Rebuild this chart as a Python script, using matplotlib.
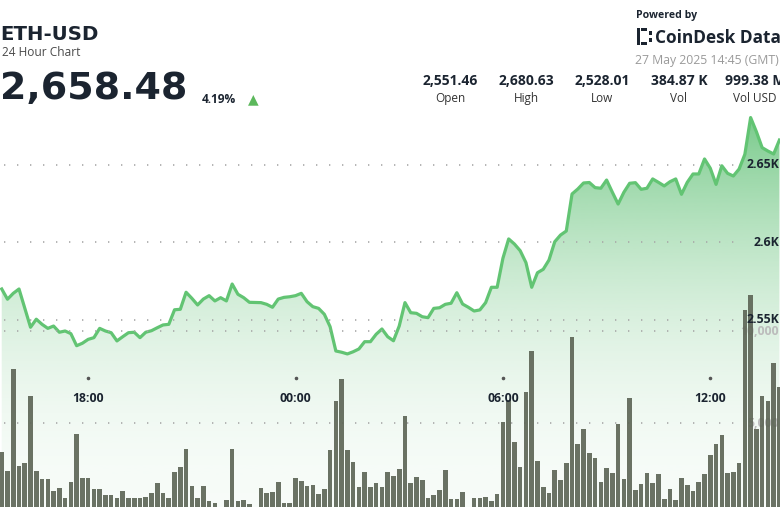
import matplotlib
matplotlib.use('Agg')
import matplotlib.pyplot as plt
import matplotlib.dates as mdates
from matplotlib.colors import to_rgb
from matplotlib.patches import Rectangle
from matplotlib.transforms import blended_transform_factory
import numpy as np
import pandas as pd

matplotlib.rcParams['font.family'] = ['Open Sans', 'DejaVu Sans']

# --- data: 10 minute steps from 15:30 (26 May) ---
prices = [
    2570.0, 2563.4, 2567.2, 2570.0, 2557.7, 2545.3, 2550.5, 2547.2, 2544.6, 2546.1,
    2542.1, 2542.9, 2541.2, 2533.4, 2535.0, 2537.5, 2538.6, 2544.6, 2542.9, 2541.8,
    2536.5, 2539.2, 2541.8, 2542.1, 2538.6, 2542.1, 2543.1, 2545.0, 2546.8, 2547.2,
    2556.6, 2556.9, 2567.9, 2564.0, 2559.7, 2563.5, 2565.7, 2562.3, 2564.4, 2562.3,
    2573.2, 2566.6, 2564.4, 2561.4, 2561.3, 2561.2, 2560.1, 2558.2, 2563.5, 2564.6,
    2565.0, 2565.7, 2567.2, 2561.8, 2558.6, 2557.5, 2553.7, 2545.7, 2530.0, 2529.2,
    2528.1, 2529.5, 2531.3, 2536.0, 2536.0, 2540.8, 2544.2, 2539.2, 2536.6, 2546.1,
    2561.2, 2554.7, 2554.3, 2552.1, 2551.5, 2557.5, 2557.9, 2560.1, 2560.8, 2567.6,
    2560.3, 2558.2, 2555.8, 2556.5, 2561.2, 2571.1, 2571.1, 2589.8, 2602.3, 2599.0,
    2594.7, 2587.0, 2571.1, 2580.5, 2582.7, 2588.7, 2600.5, 2604.8, 2607.4, 2631.3,
    2634.5, 2638.4, 2638.7, 2635.4, 2635.0, 2640.3, 2632.4, 2624.8, 2632.4, 2638.2,
    2638.6, 2634.3, 2635.0, 2641.0, 2638.8, 2636.5, 2639.2, 2641.0, 2631.1, 2638.8,
    2644.2, 2644.2, 2653.9, 2647.9, 2637.5, 2649.5, 2644.6, 2642.9, 2647.4, 2656.9,
    2680.6, 2671.5, 2661.2, 2659.0, 2657.1, 2666.1,
]
volumes = [
    3424, 2391, 7935, 2663, 2826, 6467, 2391, 1957, 1957, 1304,
    1467, 924, 1793, 4402, 2011, 2011, 1413, 1413, 1087, 1087,
    924, 1304, 924, 924, 924, 978, 1196, 1739, 1196, 924,
    2337, 2609, 3587, 1576, 924, 1576, 761, 652, 435, 815,
    3587, 761, 815, 598, 435, 1467, 1196, 1250, 1793, 652,
    652, 2011, 1848, 1576, 1630, 1141, 1413, 3533, 6196, 7392,
    3533, 2880, 1522, 2337, 1522, 1739, 1522, 2337, 2120, 2500,
    5381, 1739, 2065, 1902, 924, 1087, 1359, 2446, 870, 870,
    1250, 200, 924, 924, 978, 761, 1141, 5054, 6250, 3967,
    2609, 6685, 8913, 2935, 1522, 1196, 2446, 1902, 2826, 9674,
    3859, 4674, 3370, 3098, 1793, 2554, 2283, 4946, 1957, 6359,
    1359, 1685, 2283, 1739, 2228, 870, 1413, 815, 2011, 1630,
    1304, 1793, 2228, 3261, 3859, 4348, 2283, 2337, 2826, 11141,
    11957, 4674, 6467, 6196, 8261, 6957,
]
times = pd.date_range('2025-05-26 15:30', periods=len(prices), freq='10min')

price_ticks = [2550, 2600, 2650]
price_tick_labels = ['2.55K', '2.6K', '2.65K']
vol_ticks = [5000, 10000]
vol_tick_labels = ['5,000', '10,000']
time_ticks = pd.to_datetime(['2025-05-26 18:00', '2025-05-27 00:00',
                             '2025-05-27 06:00', '2025-05-27 12:00'])
time_labels = ['18:00', '00:00', '06:00', '12:00']

stat_values = ['2,551.46', '2,680.63', '2,528.01', '384.87 K', '999.38 M']
stat_names = ['Open', 'High', 'Low', 'Vol', 'Vol USD']

W, H = 780, 507
DARK = '#1b2430'
GREEN = '#5cbf72'


def fx(x):
    return x / W


def fy(y):
    return 1 - y / H


fig = plt.figure(figsize=(W / 100, H / 100), dpi=100)
fig.patch.set_facecolor('white')
ax_p = fig.add_axes([0, 0, 1, 1])
ax_v = fig.add_axes([0, 0, 1, 1], sharex=ax_p)
ax_v.patch.set_alpha(0)

x_left = pd.Timestamp('2025-05-26 15:27')
x_right = pd.Timestamp('2025-05-27 14:01')
p_low, p_high = 2429.35, 2756.45
v_low, v_high = 435, 27989

# --- price area with vertical gradient ---
poly = ax_p.fill_between(times, prices, p_low, facecolor='none', edgecolor='none')
clip = poly.get_paths()[0]
n = 256
f = np.linspace(0, 1, n)
rgba = np.zeros((n, 1, 4))
rgba[..., :3] = to_rgb(GREEN)
rgba[..., 3] = (0.05 + 0.8 * f ** 2)[:, None]
x0, x1 = mdates.date2num(x_left), mdates.date2num(x_right)
img = ax_p.imshow(rgba, extent=[x0, x1, p_low, 2685.5], origin='lower',
                  aspect='auto', zorder=1)
img.set_clip_path(clip, transform=ax_p.transData)

ax_p.plot(times, prices, color='#62c473', lw=2.3, zorder=3)

dots = (0, (0.8, 7))
for p in price_ticks:
    ax_p.axhline(p, xmin=0.005, xmax=0.955, color='#a8a8a8', lw=1.2, ls=dots, zorder=2)

ax_p.set_ylim(p_low, p_high)

# volume labels sit under the bars
vtrans = blended_transform_factory(ax_p.transAxes, ax_v.transData)
for v, lab in zip(vol_ticks, vol_tick_labels):
    ax_p.text(779 / W, v, lab, transform=vtrans, ha='right', va='center',
              fontsize=8.8, fontweight='bold', color='#bcbcbc', zorder=2)

# --- volume bars ---
ax_v.bar(times, volumes, width=8 / 1440, color='#5e6657', alpha=0.92,
         linewidth=0, zorder=2)
for v in vol_ticks:
    ax_v.axhline(v, xmin=0.005, xmax=0.955, color='#a8a8a8', lw=1.2, ls=dots, zorder=1)
ax_v.set_ylim(v_low, v_high)

ptrans = blended_transform_factory(ax_v.transAxes, ax_p.transData)
for p, lab in zip(price_ticks, price_tick_labels):
    ax_v.text(779 / W, p, lab, transform=ptrans, ha='right', va='center',
              fontsize=8.8, fontweight='bold', color=DARK, zorder=6)

ttrans = blended_transform_factory(ax_v.transData, ax_v.transAxes)
ax_v.scatter(mdates.date2num(time_ticks), [fy(378)] * len(time_ticks), s=2.5,
             color='#555555', transform=ttrans, zorder=5)
for t, lab in zip(time_ticks, time_labels):
    ax_v.text(mdates.date2num(t), fy(398), lab, transform=ttrans, ha='center',
              va='center', fontsize=8.8, fontweight='bold', color=DARK, zorder=6)

ax_p.set_xlim(x_left, x_right)
ax_p.axis('off')
ax_v.axis('off')

# --- header, left ---
fig.text(fx(0), fy(39.5), 'ETH-USD', fontsize=14.2, fontweight='bold',
         color=DARK, family='DejaVu Sans', va='baseline')
fig.text(fx(1.5), fy(56), '24 Hour Chart', fontsize=8.6, color='#4a4a4a', va='baseline')
fig.text(fx(0), fy(99.5), '2,658.48', fontsize=27.4, fontweight='bold',
         color=DARK, family='DejaVu Sans', va='baseline')
fig.text(fx(202), fy(103), '4.19%', fontsize=8.6, fontweight='bold', color=DARK,
         va='baseline')
fig.text(fx(253), fy(99), '\u25b2', fontsize=10, color='#5cb85c', family='DejaVu Sans',
         ha='center', va='center')

# --- header, right ---
fig.text(fx(636), fy(18), 'Powered by', fontsize=7.6, fontweight='bold', color=DARK,
         va='baseline')
for (sx, sy) in [(637, 28), (637, 31.5), (637, 35), (637, 38.5), (637, 42),
                 (640.5, 28), (644, 28), (640.5, 42), (644, 42),
                 (649, 31.5), (649, 38.5)]:
    fig.add_artist(Rectangle((fx(sx), fy(sy + 3)), 3 / W, 3 / H,
                             transform=fig.transFigure, color=DARK, lw=0))
fig.text(fx(655), fy(43), 'CoinDesk Data', fontsize=12.4, fontweight='bold',
         color=DARK, va='baseline')
fig.text(fx(635), fy(64), '27 May 2025 14:45 (GMT)', fontsize=8.8, color='#9a9a9a',
         va='baseline')

stat_x = [450, 526, 602, 679, 755]
for sx, val, name in zip(stat_x, stat_values, stat_names):
    fig.text(fx(sx), fy(85), val, fontsize=10, fontweight='bold', color=DARK,
             ha='center', va='baseline')
    fig.text(fx(sx), fy(102), name, fontsize=8.5, color='#333333',
             ha='center', va='baseline')

fig.savefig('out.png', dpi=100, facecolor='white')
